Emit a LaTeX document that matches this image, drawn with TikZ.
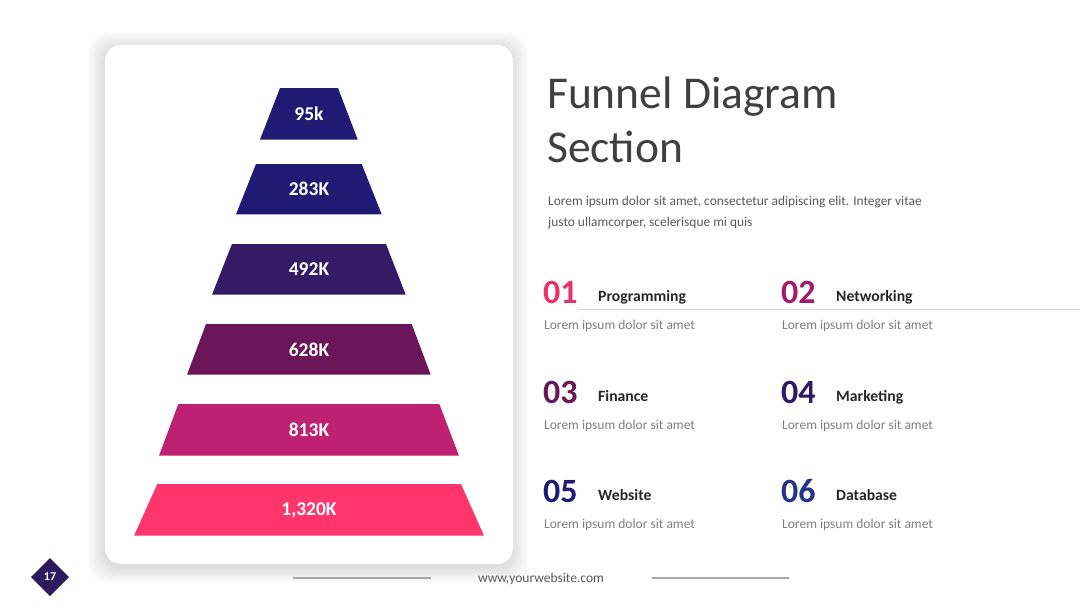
\documentclass[tikz,border=0pt]{standalone}
\usepackage{fontspec}
\setmainfont{Carlito}
\definecolor{cNavy}{HTML}{201A73}
\definecolor{cIndigo}{HTML}{341B66}
\definecolor{cPlum}{HTML}{6A1659}
\definecolor{cMagenta}{HTML}{BE2072}
\definecolor{cPink}{HTML}{FF366B}
\definecolor{nOne}{HTML}{E8336A}
\definecolor{nTwo}{HTML}{A01C6E}
\definecolor{nThree}{HTML}{6A1659}
\definecolor{nFour}{HTML}{2E1A5F}
\definecolor{nFive}{HTML}{201A73}
\definecolor{nSix}{HTML}{253489}
\definecolor{titleGray}{HTML}{404040}
\definecolor{bodyGray}{HTML}{595959}
\definecolor{subGray}{HTML}{7F7F7F}
\definecolor{ruleGray}{HTML}{A6A6A6}
\definecolor{diamondPurple}{HTML}{2E1A5F}
\tikzset{
  lbl/.style={text=white, font=\fontsize{19.5}{22}\selectfont\bfseries, inner sep=0pt},
  numtxt/.style={anchor=base west, inner sep=0pt, font=\fontsize{34}{38}\selectfont\bfseries},
  headtxt/.style={anchor=base west, inner sep=0pt, text=black!85, font=\fontsize{15.7}{18}\selectfont\bfseries},
  subtxt/.style={anchor=base west, inner sep=0pt, text=subGray, font=\fontsize{13.5}{16}\selectfont},
}
\begin{document}
\begin{tikzpicture}[x=1pt,y=-1pt]
\useasboundingbox (0,0) rectangle (1080,608);
\fill[white] (0,0) rectangle (1080,608);
% card shadow (layered)
\foreach \i in {1,...,16}{
  \fill[black, opacity=0.009, rounded corners=18pt] (105-\i-1,45-\i+3) rectangle (513+\i-1,564+\i+3);
}
% card
\fill[white, rounded corners=16pt] (105,45) rectangle (513,564);
% funnel
\fill[cNavy]    (280,88) -- (338,88) -- (357.7,139.5) -- (260,139.5) -- cycle;
\node[lbl] (f1) at (309,114) {95k};
\fill[cNavy]    (256,164) -- (361.7,164) -- (381.7,214.3) -- (236,214.3) -- cycle;
\node[lbl] (f2) at (309,189) {283K};
\fill[cIndigo]  (232,244) -- (386,244) -- (405.7,294.7) -- (212,294.7) -- cycle;
\node[lbl] (f3) at (309,269.5) {492K};
\fill[cPlum]    (206,324) -- (411.7,324) -- (430.7,374.7) -- (187,374.7) -- cycle;
\node[lbl] (f4) at (309,349.5) {628K};
\fill[cMagenta] (178.3,404) -- (439.3,404) -- (459,455.7) -- (159,455.7) -- cycle;
\node[lbl] (f5) at (309,430) {813K};
\fill[cPink]    (157.3,484) -- (461,484) -- (484,535.7) -- (134,535.7) -- cycle;
\node[lbl] (f6) at (309,510) {1,320K};
% title
\node[anchor=base west, inner sep=0pt, text=titleGray, font=\fontsize{45.5}{50}\selectfont] (t1) at (547,108.5) {Funnel Diagram};
\node[anchor=base west, inner sep=0pt, text=titleGray, font=\fontsize{45.5}{50}\selectfont] (t2) at (547,162) {Section};
\node[anchor=base west, inner sep=0pt, text=bodyGray, font=\fontsize{13.4}{16}\selectfont] (b1) at (548,205) {Lorem ipsum dolor sit amet, consectetur adipiscing elit. Integer vitae};
\node[anchor=base west, inner sep=0pt, text=bodyGray, font=\fontsize{13.4}{16}\selectfont] (b2) at (548,226) {justo ullamcorper, scelerisque mi quis};
% divider
\draw[black!15, line width=0.8pt] (578,309) -- (1080,309);
% items
\node[numtxt, text=nOne]   (n1) at (543,303) {01};
\node[headtxt] (h1) at (598,301) {Programming};
\node[subtxt]  (s1) at (544,329) {Lorem ipsum dolor sit amet};
\node[numtxt, text=nTwo]   (n2) at (781,303) {02};
\node[headtxt] (h2) at (836,301) {Networking};
\node[subtxt]  (s2) at (782,329) {Lorem ipsum dolor sit amet};
\node[numtxt, text=nThree] (n3) at (543,403) {03};
\node[headtxt] (h3) at (598,401) {Finance};
\node[subtxt]  (s3) at (544,429) {Lorem ipsum dolor sit amet};
\node[numtxt, text=nFour]  (n4) at (781,403) {04};
\node[headtxt] (h4) at (836,401) {Marketing};
\node[subtxt]  (s4) at (782,429) {Lorem ipsum dolor sit amet};
\node[numtxt, text=nFive]  (n5) at (543,502) {05};
\node[headtxt] (h5) at (598,500) {Website};
\node[subtxt]  (s5) at (544,528) {Lorem ipsum dolor sit amet};
\node[numtxt, text=nSix]   (n6) at (781,502) {06};
\node[headtxt] (h6) at (836,500) {Database};
\node[subtxt]  (s6) at (782,528) {Lorem ipsum dolor sit amet};
% footer
\fill[diamondPurple] (50,558) -- (69,577) -- (50,596) -- (31,577) -- cycle;
\node[text=white, inner sep=0pt, font=\fontsize{12}{14}\selectfont\bfseries] (pg) at (50,577) {17};
\node[anchor=base, inner sep=0pt, text=bodyGray, font=\fontsize{13.5}{16}\selectfont] (web) at (541,582) {www,yourwebsite.com};
\draw[ruleGray, line width=1.5pt] (293,578) -- (431,578);
\draw[ruleGray, line width=1.5pt] (652,578) -- (789,578);
\end{tikzpicture}
\end{document}
